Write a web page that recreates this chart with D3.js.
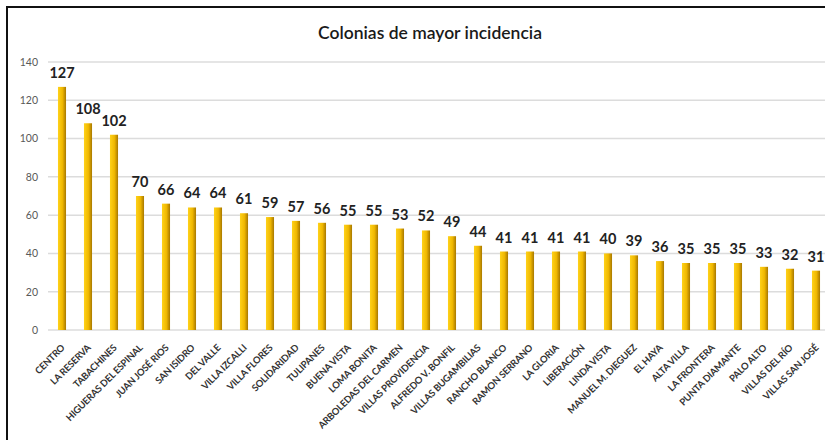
<!DOCTYPE html>
<html>
<head>
<meta charset="utf-8">
<script src="https://cdn.jsdelivr.net/npm/d3@7"></script>
<style>
  body { margin: 0; background: #fff; }
  svg { display: block; font-family: Lato, "Open Sans", sans-serif; }
</style>
</head>
<body>
<div id="chart"></div>
<script>
// Chart data
var colonias = ["CENTRO", "LA RESERVA", "TABACHINES", "HIGUERAS DEL ESPINAL", "JUAN JOSÉ RIOS",
  "SAN ISIDRO", "DEL VALLE", "VILLA IZCALLI", "VILLA FLORES", "SOLIDARIDAD", "TULIPANES",
  "BUENA VISTA", "LOMA BONITA", "ARBOLEDAS DEL CARMEN", "VILLAS PROVIDENCIA", "ALFREDO V. BONFIL",
  "VILLAS BUGAMBILIAS", "RANCHO BLANCO", "RAMON SERRANO", "LA GLORIA", "LIBERACIÓN", "LINDA VISTA",
  "MANUEL M. DIEGUEZ", "EL HAYA", "ALTA VILLA", "LA FRONTERA", "PUNTA DIAMANTE", "PALO ALTO",
  "VILLAS DEL RÍO", "VILLAS SAN JOSÉ"];
var casos = [127, 108, 102, 70, 66, 64, 64, 61, 59, 57, 56, 55, 55, 53, 52, 49, 44, 41, 41, 41, 41,
  40, 39, 36, 35, 35, 35, 33, 32, 31];
var yTicks = [0, 20, 40, 60, 80, 100, 120, 140];

var svgWidth = 825;
var svgHeight = 440;

var svg = d3.select("#chart")
    .append("svg")
    .attr("width", svgWidth)
    .attr("height", svgHeight);

// bar gradient, light on the left, darker on the right
var grad = svg.append("defs").append("linearGradient")
    .attr("id", "barGrad")
    .attr("x1", "0%").attr("x2", "100%").attr("y1", "0%").attr("y2", "0%");
grad.append("stop").attr("offset", "0%").attr("stop-color", "#ffd21a");
grad.append("stop").attr("offset", "55%").attr("stop-color", "#f0b800");
grad.append("stop").attr("offset", "100%").attr("stop-color", "#a87800");

// frame (only top and left visible)
svg.append("rect")
    .attr("x", 7).attr("y", 7)
    .attr("width", 840).attr("height", 460)
    .attr("fill", "none")
    .attr("stroke", "#111")
    .attr("stroke-width", 2);

svg.append("text")
    .attr("x", 430)
    .attr("y", 39)
    .attr("text-anchor", "middle")
    .style("font-size", "17.5px")
    .style("font-weight", "600")
    .style("fill", "#1a1a1a")
    .text("Colonias de mayor incidencia");

var x = d3.scaleBand()
    .domain(colonias)
    .range([49, 49 + 26 * colonias.length])
    .paddingInner(0.69)
    .paddingOuter(0.345);

var y = d3.scaleLinear()
    .domain([0, 140])
    .range([330, 62]);

// gridlines
svg.append("g")
    .selectAll("line")
    .data(yTicks)
    .enter()
    .append("line")
    .attr("x1", 48)
    .attr("x2", svgWidth)
    .attr("y1", d => y(d))
    .attr("y2", d => y(d))
    .attr("stroke", "#dcdcdc")
    .attr("stroke-width", 1.5);

// y axis labels
var leftAxis = d3.axisLeft(y).tickValues(yTicks).tickSize(0).tickPadding(0);
var yAxis = svg.append("g")
    .attr("transform", "translate(38,0)")
    .call(leftAxis);
yAxis.select(".domain").remove();
yAxis.selectAll("text")
    .style("font-size", "10.5px")
    .style("font-family", "Lato, sans-serif")
    .style("fill", "#595959");

// bars
svg.append("g")
    .selectAll("rect")
    .data(casos)
    .enter()
    .append("rect")
    .attr("x", (d, i) => x(colonias[i]))
    .attr("y", d => y(d))
    .attr("width", x.bandwidth())
    .attr("height", d => y(0) - y(d))
    .attr("fill", "url(#barGrad)");

// value labels
svg.append("g")
    .selectAll("text")
    .data(casos)
    .enter()
    .append("text")
    .attr("x", (d, i) => x(colonias[i]) + x.bandwidth() / 2)
    .attr("y", d => y(d) - 9)
    .attr("text-anchor", "middle")
    .style("font-size", "14.5px")
    .style("font-weight", "bold")
    .style("fill", "#222")
    .text(d => d);

// category labels
var bottomAxis = d3.axisBottom(x).tickSize(0).tickPadding(0);
var xAxis = svg.append("g")
    .attr("transform", "translate(0,333)")
    .call(bottomAxis);
xAxis.select(".domain").remove();
xAxis.selectAll("text")
    .attr("text-anchor", "end")
    .attr("dy", "0.35em")
    .attr("transform", "translate(1,13) rotate(-45)")
    .style("font-size", "9.5px")
    .style("font-weight", "bold")
    .style("font-family", "Lato, sans-serif")
    .style("letter-spacing", "-0.2px")
    .style("fill", "#333");
</script>
</body>
</html>
